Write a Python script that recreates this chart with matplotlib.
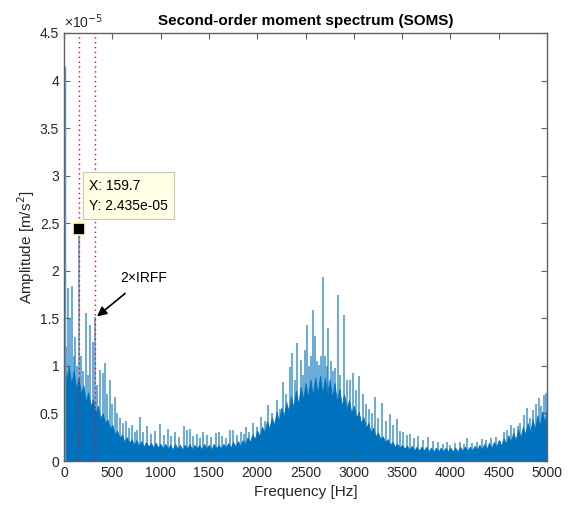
import numpy as np
import matplotlib
matplotlib.use("Agg")
import matplotlib.pyplot as plt

plt.rcParams['font.family'] = ['Liberation Sans', 'DejaVu Sans']

# solid mass of the spectrum (x1e-5 m/s^2), read every 25 Hz
body_freq = np.arange(0, 5001, 25)
body_top = [1.05, 0.85, 1.0, 0.8, 0.95, 0.75, 0.88, 0.7, 0.8, 0.62, 0.72, 0.58, 0.65, 0.5, 0.58, 0.45, 0.5, 0.4, 0.44, 0.34,
            0.38, 0.28, 0.32, 0.24, 0.28, 0.2, 0.25, 0.19, 0.23, 0.17, 0.22, 0.16, 0.21, 0.15, 0.2, 0.15, 0.19, 0.14, 0.19, 0.14,
            0.18, 0.13, 0.18, 0.13, 0.17, 0.12, 0.18, 0.13, 0.17, 0.12, 0.17, 0.13, 0.18, 0.12, 0.17, 0.13, 0.17, 0.12, 0.18, 0.13,
            0.17, 0.12, 0.18, 0.13, 0.17, 0.13, 0.18, 0.14, 0.19, 0.14, 0.2, 0.15, 0.21, 0.16, 0.22, 0.18, 0.25, 0.2, 0.28, 0.23,
            0.32, 0.26, 0.36, 0.3, 0.42, 0.34, 0.46, 0.38, 0.52, 0.42, 0.56, 0.47, 0.62, 0.52, 0.68, 0.56, 0.74, 0.6, 0.78, 0.64,
            0.82, 0.66, 0.86, 0.68, 0.88, 0.7, 0.9, 0.7, 0.88, 0.7, 0.86, 0.66, 0.82, 0.62, 0.76, 0.58, 0.7, 0.54, 0.64, 0.5,
            0.58, 0.45, 0.52, 0.4, 0.46, 0.35, 0.4, 0.3, 0.35, 0.26, 0.3, 0.23, 0.26, 0.2, 0.23, 0.17, 0.2, 0.15, 0.18, 0.14,
            0.17, 0.13, 0.16, 0.12, 0.16, 0.11, 0.15, 0.11, 0.15, 0.11, 0.15, 0.1, 0.14, 0.1, 0.14, 0.1, 0.14, 0.1, 0.14, 0.1,
            0.14, 0.1, 0.14, 0.1, 0.15, 0.11, 0.15, 0.11, 0.15, 0.11, 0.16, 0.12, 0.17, 0.12, 0.18, 0.13, 0.19, 0.14, 0.2, 0.15,
            0.22, 0.16, 0.24, 0.18, 0.27, 0.2, 0.3, 0.22, 0.33, 0.25, 0.36, 0.28, 0.4, 0.3, 0.44, 0.33, 0.48, 0.36, 0.52, 0.4,
            0.55]

# individual peaks
spike_freq = [0, 10, 25, 41, 60, 83, 100, 114, 135, 159.7, 180, 200, 228, 250, 270,
              297, 319.4, 340, 373, 404, 424, 450, 476, 500, 528, 548, 575, 611, 640,
              670, 700,
              730, 760, 787, 820, 859, 900, 940, 994, 1030, 1077, 1110, 1150, 1190,
              1242, 1273, 1300, 1340, 1380, 1410, 1439, 1480, 1520, 1573, 1600, 1640,
              1680, 1718, 1750, 1790, 1830, 1860, 1884, 1920,
              1960, 2000, 2040, 2080, 2112, 2150, 2205, 2240, 2267, 2300, 2340, 2360,
              2390, 2412, 2450, 2470, 2495, 2515, 2540, 2560, 2580, 2600, 2620, 2640,
              2660, 2678, 2700, 2720, 2736, 2760, 2780, 2805, 2838, 2860, 2899, 2930,
              2960, 2992, 3020, 3054, 3090, 3127, 3160, 3190, 3220, 3250, 3290, 3330,
              3375, 3410, 3447, 3480, 3510, 3550, 3580, 3620, 3665, 3720, 3770,
              3820, 3870, 3920, 3960, 4000, 4050, 4100, 4140, 4170, 4220, 4270, 4327,
              4370, 4420, 4470, 4513, 4550, 4590, 4627, 4660, 4700, 4720, 4760, 4790,
              4820, 4855, 4890, 4917, 4940, 4969, 4990]
spike_amp = [4.15, 1.66, 1.2, 1.82, 1.5, 1.84, 1.1, 1.3, 1.0, 2.435, 1.1, 0.95, 1.56, 0.9, 1.43,
             1.25, 1.51, 0.8, 0.96, 0.92, 1.03, 0.7, 0.85, 0.6, 0.67, 0.5, 0.45, 0.4, 0.42,
             0.35, 0.38,
             0.3, 0.33, 0.46, 0.3, 0.37, 0.28, 0.32, 0.39, 0.27, 0.34, 0.26, 0.3, 0.25,
             0.37, 0.33, 0.34, 0.26, 0.28, 0.24, 0.31, 0.27, 0.25, 0.29, 0.31, 0.26,
             0.24, 0.33, 0.33, 0.27, 0.3, 0.28, 0.36, 0.3,
             0.4, 0.36, 0.46, 0.42, 0.59, 0.5, 0.64, 0.55, 0.83, 0.7, 0.99, 1.14,
             0.85, 1.24, 1.06, 0.9, 1.17, 1.43, 1.0, 1.1, 1.59, 1.31, 1.05, 1.01,
             1.1, 1.93, 1.1, 1.0, 1.4, 1.05, 0.95, 0.98, 1.75, 0.9, 1.54, 0.85,
             0.85, 0.93, 0.75, 0.89, 0.7, 0.6, 0.55, 0.5, 0.67, 0.45, 0.61, 0.42,
             0.49, 0.38, 0.44, 0.32, 0.3, 0.27, 0.28, 0.24, 0.26, 0.22, 0.25,
             0.21, 0.2, 0.18, 0.2, 0.17, 0.19, 0.2, 0.18, 0.24, 0.19, 0.2, 0.23,
             0.22, 0.24, 0.25, 0.21, 0.3, 0.33, 0.38, 0.35, 0.37, 0.4, 0.48, 0.56,
             0.45, 0.54, 0.6, 0.66, 0.58, 0.69, 0.72]

irff = 159.7
tip_x, tip_y = 159.7, 2.435
xticks = np.arange(0, 5001, 500)
yticks = np.arange(0, 4.51, 0.5)

blue = '#0072BD'
grey = '#606060'

fig = plt.figure(figsize=(5.68, 5.12), dpi=100)
ax = fig.add_axes([0.1127, 0.0996, 0.8504, 0.836])

ax.fill_between(body_freq, 0, body_top, color=blue, lw=0.6, edgecolor=blue)
ax.vlines(spike_freq, 0, spike_amp, color=blue, lw=1.1, alpha=0.75)
ax.vlines(spike_freq[0], 0, spike_amp[0], color='#5aa0d8', lw=2.5)

for k in (1, 2):
    ax.axvline(k * irff, color='red', ls=(0, (1, 2.5)), lw=1.0)

ax.plot(tip_x, tip_y, 's', ms=8, mfc='black', mec='#ffffc0', mew=1.2, zorder=5)
ax.text(258, 2.97, 'X: 159.7\nY: 2.435e-05', fontsize=10, va='top', ha='left',
        linespacing=1.6, zorder=6,
        bbox=dict(boxstyle='square,pad=0.45', fc='#ffffe6', ec='#c8c8b0', lw=0.8))

ax.annotate('2\u00d7IRFF', xy=(342, 1.52), xytext=(580, 1.92), fontsize=10,
            va='center', ha='left',
            arrowprops=dict(arrowstyle='-|>', color='black', lw=1.2,
                            shrinkA=6, shrinkB=0, mutation_scale=14))

ax.set_xlim(0, 5000)
ax.set_ylim(0, 4.5)
ax.set_xticks(xticks)
ax.set_yticks(yticks)
ax.set_yticklabels(['0', '0.5', '1', '1.5', '2', '2.5', '3', '3.5', '4', '4.5'])
ax.tick_params(direction='in', top=True, right=True, length=4, width=0.8,
               colors=grey, labelcolor='#262626', labelsize=10)
for s in ax.spines.values():
    s.set_color(grey)
    s.set_linewidth(1.0)

ax.text(0.0, 1.005, '\u00d710$^{-5}$', transform=ax.transAxes, fontsize=10,
        color='#262626', va='bottom', ha='left')
ax.set_xlabel('Frequency [Hz]', fontsize=11, color='#262626')
ax.set_ylabel('Amplitude [m/s$^2$]', fontsize=11, color='#262626', labelpad=2)
ax.set_title('Second-order moment spectrum (SOMS)', fontsize=11, fontweight='bold',
             pad=6)

fig.savefig('out.png', dpi=100)
